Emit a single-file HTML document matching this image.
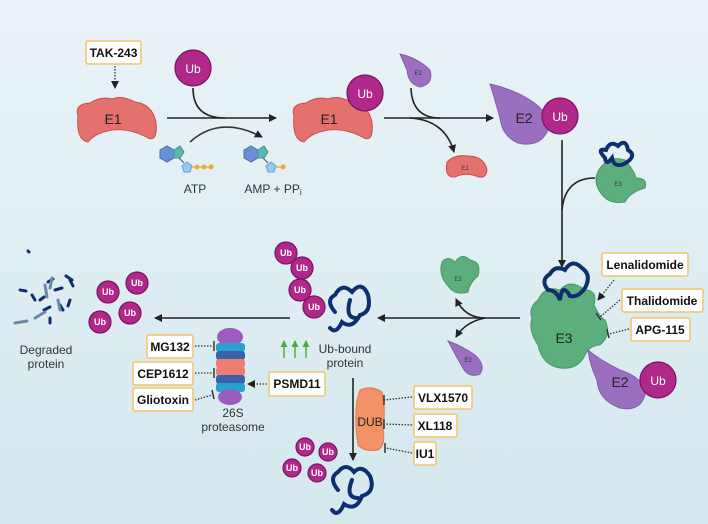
<!DOCTYPE html>
<html><head><meta charset="utf-8"><style>
html,body{margin:0;padding:0;width:708px;height:524px;overflow:hidden}
svg{display:block;font-family:"Liberation Sans",sans-serif}
.box{fill:#fff;stroke:#f2c46a;stroke-width:1.5}
.bt{font-weight:bold;font-size:12px;fill:#111;text-anchor:middle}
.lab{font-size:12px;fill:#333;text-anchor:middle}
.ln{stroke:#222;stroke-width:1.6;fill:none}
.dot{stroke:#333;stroke-width:1.3;stroke-dasharray:1.5 1.5;fill:none}
.ub{fill:#b0288a;stroke:#7a1460;stroke-width:1.2}
.ubt{fill:#fff;text-anchor:middle;font-size:12px}
.ubs{fill:#fff;text-anchor:middle;font-size:9px;font-weight:bold}
.coil{stroke:#0e2f6e;stroke-width:4;fill:none;stroke-linecap:round}
</style></head><body>
<svg width="708" height="524" viewBox="0 0 708 524">
<defs>
<linearGradient id="bg" x1="0" y1="0" x2="0" y2="1"><stop offset="0" stop-color="#eaf3f7"/><stop offset="1" stop-color="#d4e8ee"/></linearGradient>
<marker id="ah" markerWidth="8" markerHeight="8" refX="7" refY="4" orient="auto" markerUnits="userSpaceOnUse"><path d="M0,0 L8,4 L0,8 Z" fill="#222"/></marker>
<marker id="ag" markerWidth="7" markerHeight="7" refX="6" refY="3.5" orient="auto" markerUnits="userSpaceOnUse"><path d="M0,0 L7,3.5 L0,7 Z" fill="#4caf3c"/></marker>
</defs>
<rect width="708" height="524" fill="url(#bg)"/>

<rect class="box" x="86" y="41" width="55" height="23" rx="2"/>
<text class="bt" x="113.5" y="57">TAK-243</text>
<line class="dot" x1="115" y1="66" x2="115" y2="88" marker-end="url(#ah)"/>

<path d="M78,116 Q74,104 90,103 Q100,96 112,99 Q122,95 135,102 Q152,104 156,122 Q158,142 148,138 Q130,128 112,130 Q95,133 88,142 Q76,140 78,116Z" fill="#e5716e" stroke="#c9504d"/>
<text x="113" y="124" font-size="14" fill="#222" text-anchor="middle">E1</text>

<circle class="ub" cx="193" cy="68" r="18"/><text class="ubt" x="193" y="73" font-size="13">Ub</text>
<line class="ln" x1="167" y1="118" x2="276" y2="118" marker-end="url(#ah)"/>
<path class="ln" d="M193,88 Q193,118 225,118"/>
<path d="M190,142 Q220,115 262,137" stroke="#222" stroke-width="1.6" fill="none" marker-end="url(#ah)" stroke-opacity="0.9"/>

<g>
<polygon points="160,150 167,146 174,150 174,158 167,162 160,158" fill="#6a8fd8" stroke="#4a6fb8"/>
<polygon points="174,150 180,146 184,152 180,158 174,158" fill="#5bb8b0" stroke="#3a9890"/>
<polygon points="182,166 187,162 192,166 190,172 184,172" fill="#9ac8ef" stroke="#6aa0d0"/>
<line x1="179" y1="158" x2="184" y2="163" stroke="#555"/>
<line x1="192" y1="167" x2="213" y2="167" stroke="#e0a030"/>
<circle cx="197" cy="167" r="2.5" fill="#f0a830"/><circle cx="204" cy="167" r="2.5" fill="#f0a830"/><circle cx="211" cy="167" r="2.5" fill="#f0a830"/>
</g>
<text class="lab" x="195" y="193">ATP</text>
<g transform="translate(84,0)">
<polygon points="160,150 167,146 174,150 174,158 167,162 160,158" fill="#6a8fd8" stroke="#4a6fb8"/>
<polygon points="174,150 180,146 184,152 180,158 174,158" fill="#5bb8b0" stroke="#3a9890"/>
<polygon points="182,166 187,162 192,166 190,172 184,172" fill="#9ac8ef" stroke="#6aa0d0"/>
<line x1="179" y1="158" x2="184" y2="163" stroke="#555"/>
<line x1="192" y1="167" x2="199" y2="167" stroke="#e0a030"/>
<circle cx="199" cy="167" r="2.5" fill="#f0a830"/>
</g>
<text class="lab" x="273" y="193">AMP + PP<tspan font-size="8" dy="2">i</tspan></text>

<path d="M294,116 Q290,104 306,103 Q316,96 328,99 Q338,95 351,102 Q368,104 372,122 Q374,142 364,138 Q346,128 328,130 Q311,133 304,142 Q292,140 294,116Z" fill="#e5716e" stroke="#c9504d"/>
<text x="329" y="124" font-size="14" fill="#222" text-anchor="middle">E1</text>
<circle class="ub" cx="365" cy="93" r="18"/><text class="ubt" x="365" y="98" font-size="13">Ub</text>

<line class="ln" x1="384" y1="118" x2="493" y2="118" marker-end="url(#ah)"/>
<path d="M400,54 Q418,58 430,70 Q434,84 420,87 Q408,84 407,70 Z" fill="#9a6fbf" stroke="#8560aa"/>
<text x="418" y="75" font-size="6" fill="#333" text-anchor="middle">E2</text>
<path class="ln" d="M411,88 Q412,118 440,118"/>
<path class="ln" d="M410,118 Q445,120 454,152" marker-end="url(#ah)"/>
<path d="M447,162 Q455,154 468,156 Q484,156 487,170 Q486,180 476,176 Q465,172 455,177 Q444,178 447,162Z" fill="#e5716e" stroke="#c9504d"/>
<text x="465" y="170" font-size="6" fill="#333" text-anchor="middle">E1</text>

<path d="M490,84 Q510,88 530,100 Q550,112 548,130 Q540,148 518,143 Q502,136 500,118 Q495,100 490,84Z" fill="#9a6fbf" stroke="#8560aa"/>
<text x="524" y="123" font-size="14" fill="#222" text-anchor="middle">E2</text>
<circle class="ub" cx="560" cy="116" r="18"/><text class="ubt" x="560" y="121" font-size="13">Ub</text>

<line class="ln" x1="562" y1="140" x2="562" y2="267" marker-end="url(#ah)"/>
<path class="ln" d="M595,178 Q565,178 562,210"/>
<path d="M600,168 Q610,155 625,160 Q635,172 636,178 Q648,178 645,188 Q630,192 625,202 Q608,205 600,192 Q592,180 600,168Z" fill="#5caf7c" stroke="#4a9a68"/>
<path class="coil" stroke-width="2.5" d="M605,158 Q596,148 606,150 Q610,140 618,146 Q626,138 628,150 Q638,156 624,164 Q614,168 612,158 Q606,166 605,158"/>
<text x="618" y="186" font-size="6" fill="#333" text-anchor="middle">E3</text>

<path d="M538,300 Q545,285 560,290 Q570,278 585,290 Q598,290 594,305 Q600,318 605,320 Q612,335 600,345 Q590,345 585,355 Q578,370 560,368 Q542,365 538,345 Q528,330 532,318 Q528,308 538,300Z" fill="#5caf7c" stroke="#4a9a68"/>
<path class="coil" d="M548,290 Q540,280 550,274 Q555,265 565,270 Q572,258 582,268 Q592,275 585,288 Q578,298 570,296 Q562,282 560,300 Q556,290 548,290"/>
<text x="564" y="343" font-size="14" fill="#222" text-anchor="middle">E3</text>
<path d="M588,350 Q600,360 620,370 Q645,378 645,395 Q640,412 620,408 Q598,400 597,380 Q590,366 588,350Z" fill="#9a6fbf" stroke="#8560aa"/>
<text x="620" y="387" font-size="14" fill="#222" text-anchor="middle">E2</text>
<circle class="ub" cx="658" cy="380" r="18"/><text class="ubt" x="658" y="385" font-size="13">Ub</text>

<rect class="box" x="602" y="253" width="86" height="23" rx="2"/><text class="bt" x="645" y="269">Lenalidomide</text>
<line class="dot" x1="614" y1="280" x2="598" y2="300" marker-end="url(#ah)"/>
<rect class="box" x="622" y="289" width="81" height="23" rx="2"/><text class="bt" x="662" y="305">Thalidomide</text>
<line class="dot" x1="620" y1="300" x2="600" y2="317"/><line x1="596" y1="313" x2="601" y2="320" stroke="#333" stroke-width="1.5"/>
<rect class="box" x="631" y="318" width="59" height="23" rx="2"/><text class="bt" x="660" y="334">APG-115</text>
<line class="dot" x1="629" y1="329" x2="609" y2="334"/><line x1="607" y1="329" x2="609" y2="338" stroke="#333" stroke-width="1.5"/>

<line class="ln" x1="520" y1="318" x2="378" y2="318" marker-end="url(#ah)"/>
<path class="ln" d="M485,318 Q465,318 456,299" marker-end="url(#ah)"/>
<path class="ln" d="M485,318 Q465,322 456,337" marker-end="url(#ah)"/>
<path d="M442,262 Q448,255 455,262 Q462,252 470,260 Q482,262 478,276 Q470,282 468,292 Q455,296 448,286 Q438,275 442,262Z" fill="#5caf7c" stroke="#4a9a68"/>
<text x="458" y="281" font-size="6" fill="#333" text-anchor="middle">E3</text>
<path d="M448,341 Q462,346 475,355 Q486,365 480,374 Q470,378 464,370 Q456,356 448,341Z" fill="#9a6fbf" stroke="#8560aa"/>
<text x="468" y="362" font-size="6" fill="#333" text-anchor="middle">E2</text>

<path class="coil" d="M335,312 Q325,300 335,295 Q342,282 352,292 Q362,280 368,295 Q372,312 360,315 Q352,330 342,322 Q336,335 330,328 M350,300 Q345,318 356,318"/>
<circle class="ub" cx="286" cy="253" r="11"/><text class="ubs" x="286" y="256">Ub</text>
<circle class="ub" cx="302" cy="268" r="11"/><text class="ubs" x="302" y="271">Ub</text>
<circle class="ub" cx="300" cy="290" r="11"/><text class="ubs" x="300" y="293">Ub</text>
<circle class="ub" cx="314" cy="307" r="11"/><text class="ubs" x="314" y="310">Ub</text>
<text class="lab" x="345" y="353">Ub-bound</text><text class="lab" x="345" y="367">protein</text>

<line class="ln" x1="290" y1="318" x2="155" y2="318" marker-end="url(#ah)"/>

<g stroke="#0e2f6e" stroke-width="3" stroke-linecap="round" fill="none">
<path d="M20,290 l6,1 M32,295 l3,5 M40,300 l4,-3 M48,282 l5,-3 M55,290 l7,-2 M44,310 l6,-3 M60,305 l3,5 M70,300 l-2,6 M28,251 l1,1 M66,276 l6,4 M50,318 l0,5 M70,280 l3,6"/>
</g>
<g stroke="#6a8aa8" stroke-width="3" stroke-linecap="round" fill="none">
<path d="M45,285 l2,12 M52,278 l-2,10 M35,318 l10,-6 M58,300 l2,10 M15,323 l12,-2"/>
</g>
<circle class="ub" cx="108" cy="292" r="11"/><text class="ubs" x="108" y="295">Ub</text>
<circle class="ub" cx="137" cy="283" r="11"/><text class="ubs" x="137" y="286">Ub</text>
<circle class="ub" cx="130" cy="313" r="11"/><text class="ubs" x="130" y="316">Ub</text>
<circle class="ub" cx="100" cy="322" r="11"/><text class="ubs" x="100" y="325">Ub</text>
<text class="lab" x="46" y="354">Degraded</text><text class="lab" x="46" y="368">protein</text>

<ellipse cx="230" cy="337" rx="13" ry="9" fill="#9a5cbf"/>
<rect x="216" y="343" width="29" height="9" rx="3" fill="#2aa0d0"/>
<rect x="216" y="351" width="29" height="9" rx="3" fill="#3a62a8"/>
<rect x="216" y="359" width="29" height="9" rx="3" fill="#ef7d76"/>
<rect x="216" y="367" width="29" height="9" rx="3" fill="#ef7d76"/>
<rect x="216" y="375" width="29" height="9" rx="3" fill="#3a62a8"/>
<rect x="216" y="383" width="29" height="9" rx="3" fill="#2aa0d0"/>
<ellipse cx="230" cy="397" rx="12" ry="8" fill="#9a5cbf"/>
<text class="lab" x="233" y="417">26S</text><text class="lab" x="233" y="431">proteasome</text>

<rect class="box" x="147" y="335" width="46" height="23" rx="2"/><text class="bt" x="170" y="351">MG132</text>
<rect class="box" x="133" y="362" width="60" height="23" rx="2"/><text class="bt" x="163" y="378">CEP1612</text>
<rect class="box" x="133" y="388" width="60" height="23" rx="2"/><text class="bt" x="163" y="404">Gliotoxin</text>
<line class="dot" x1="195" y1="346" x2="213" y2="346"/><line x1="214" y1="341" x2="214" y2="351" stroke="#333" stroke-width="1.5"/>
<line class="dot" x1="195" y1="373" x2="213" y2="373"/><line x1="214" y1="368" x2="214" y2="378" stroke="#333" stroke-width="1.5"/>
<line class="dot" x1="195" y1="400" x2="212" y2="395"/><line x1="212" y1="390" x2="214" y2="399" stroke="#333" stroke-width="1.5"/>

<rect class="box" x="269" y="372" width="56" height="24" rx="2"/><text class="bt" x="297" y="388">PSMD11</text>
<line class="dot" x1="267" y1="384" x2="248" y2="384" marker-end="url(#ah)"/>
<g stroke="#4caf3c" stroke-width="1.5">
<line x1="284" y1="358" x2="284" y2="341" marker-end="url(#ag)"/>
<line x1="295" y1="358" x2="295" y2="341" marker-end="url(#ag)"/>
<line x1="306" y1="358" x2="306" y2="341" marker-end="url(#ag)"/>
</g>

<line class="ln" x1="353" y1="378" x2="353" y2="460" marker-end="url(#ah)"/>
<path d="M360,390 Q372,385 382,392 Q386,410 383,428 Q386,446 378,450 Q364,452 358,445 Q354,420 357,400Z" fill="#f29266" stroke="#e07a50"/>
<text x="370" y="426" font-size="12" fill="#222" text-anchor="middle">DUB</text>
<rect class="box" x="414" y="386" width="58" height="23" rx="2"/><text class="bt" x="443" y="402">VLX1570</text>
<rect class="box" x="414" y="414" width="43" height="23" rx="2"/><text class="bt" x="435" y="430">XL118</text>
<rect class="box" x="414" y="442" width="22" height="23" rx="2"/><text class="bt" x="425" y="458">IU1</text>
<line class="dot" x1="412" y1="397" x2="384" y2="400"/><line x1="384" y1="395" x2="384" y2="405" stroke="#333" stroke-width="1.5"/>
<line class="dot" x1="412" y1="425" x2="385" y2="424"/><line x1="384" y1="419" x2="384" y2="429" stroke="#333" stroke-width="1.5"/>
<line class="dot" x1="412" y1="453" x2="386" y2="448"/><line x1="385" y1="443" x2="385" y2="453" stroke="#333" stroke-width="1.5"/>

<circle class="ub" cx="305" cy="447" r="9"/><text class="ubs" x="305" y="450" font-size="7">Ub</text>
<circle class="ub" cx="328" cy="452" r="9"/><text class="ubs" x="328" y="455" font-size="7">Ub</text>
<circle class="ub" cx="292" cy="468" r="9"/><text class="ubs" x="292" y="471" font-size="7">Ub</text>
<circle class="ub" cx="317" cy="473" r="9"/><text class="ubs" x="317" y="476" font-size="7">Ub</text>
<path class="coil" d="M338,490 Q328,478 338,472 Q346,462 354,472 Q362,464 370,476 Q376,492 362,496 Q356,512 344,504 Q338,518 332,510 M352,480 Q345,498 358,498"/>
</svg>
</body></html>
